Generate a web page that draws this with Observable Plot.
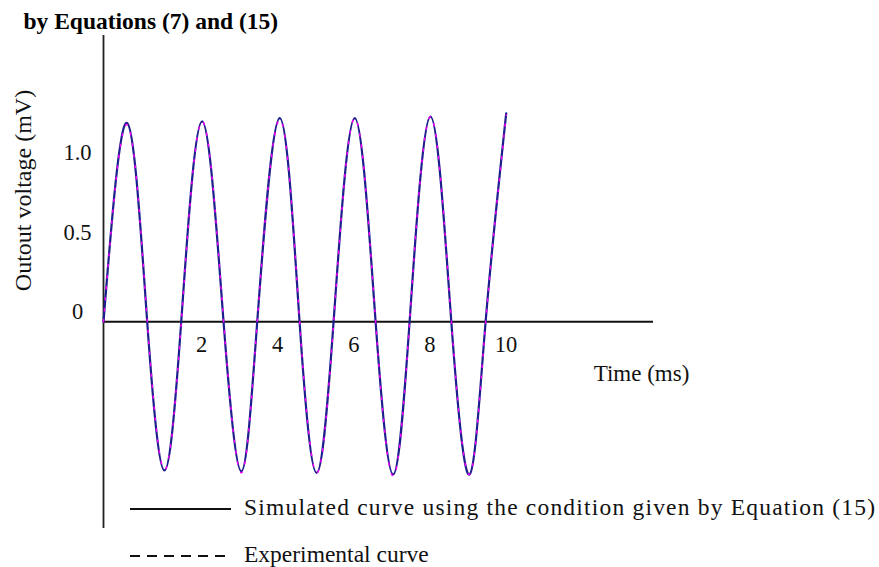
<!DOCTYPE html>
<html>
<head>
<meta charset="utf-8">
<script src="https://cdn.jsdelivr.net/npm/d3@7"></script>
<script src="https://cdn.jsdelivr.net/npm/@observablehq/plot@0.6"></script>
<style>
  html, body { margin: 0; padding: 0; background: #fff; }
  #chart svg { display: block; }
</style>
</head>
<body>
<div id="chart"></div>
<script>
// Time axis (ms): start, peaks, zero crossings and troughs of the output signal
const timeMs = [0, 0.62, 1.148, 1.60, 2.042, 2.59, 3.154, 3.62, 4.039, 4.63, 5.151, 5.60,
  6.045, 6.60, 7.149, 7.61, 8.042, 8.59, 9.138, 9.62, 10.039, 10.58];

// Simulated output voltage (mV), Equation (15) condition
const simulatedMv = [0, 1.25, 0, -0.935, 0, 1.26, 0, -0.94, 0, 1.28, 0, -0.95,
  0, 1.28, 0, -0.96, 0, 1.29, 0, -0.96, 0, 1.31];

// Measured output voltage (mV)
const experimentalMv = [0, 1.24, 0.01, -0.93, -0.01, 1.26, 0.01, -0.95, 0, 1.27, 0.01, -0.95,
  -0.01, 1.28, 0, -0.97, 0, 1.29, 0.01, -0.96, -0.01, 1.30];

const xTicks = [2, 4, 6, 8, 10];
const yTicks = [0, 0.5, 1.0];
const yTickLabels = ["0", "0.5", "1.0"];

const titleText = "by Equations (7) and (15)";
const xLabel = "Time (ms)";
const yLabel = "Outout voltage (mV)";
const legendLabels = ["Simulated curve using the condition given by Equation (15)", "Experimental curve"];

const simRows = timeMs.map((t, i) => ({t, v: simulatedMv[i]}));
const expRows = timeMs.map((t, i) => ({t, v: experimentalMv[i]}));

const FONT = "'Liberation Serif', 'Times New Roman', serif";

const svg = Plot.plot({
  width: 879,
  height: 567,
  marginLeft: 103,
  marginRight: 226,
  marginTop: 35,
  marginBottom: 39,
  x: {domain: [0, 14.45], axis: null},
  y: {domain: [-1.3, 1.8], axis: null},
  style: {fontFamily: FONT, background: "#fff", color: "#111", overflow: "visible"},
  marks: [
    // axes through the origin
    Plot.ruleX([0], {stroke: "#222", strokeWidth: 1.8}),
    Plot.ruleY([0], {stroke: "#111", strokeWidth: 1.8}),
    // tick labels
    Plot.text(xTicks, {x: d => d, y: 0, text: d => String(d), dx: 22, dy: 23,
      fontSize: 22.5, fill: "#111"}),
    Plot.text(yTicks, {x: 0, y: d => d, text: (d, i) => yTickLabels[i], dx: -26, dy: -9.5,
      textAnchor: "middle", fontSize: 22.5, fill: "#111"}),
    // curves
    Plot.line(simRows, {x: "t", y: "v", curve: "natural", stroke: "#1e1e8c", strokeWidth: 2.2}),
    Plot.line(expRows, {x: "t", y: "v", curve: "natural", stroke: "#ff00ff", strokeWidth: 1.5,
      strokeDasharray: "2,9"}),
    // titles
    Plot.text([titleText], {frameAnchor: "top-left", dx: -80, dy: -7, lineAnchor: "bottom",
      textAnchor: "start", fontWeight: "bold", fontSize: 23.5, fill: "#000"}),
    Plot.text([yLabel], {frameAnchor: "top-left", dx: -80, dy: 155, rotate: -90,
      textAnchor: "middle", lineAnchor: "middle", fontSize: 24, fill: "#111"}),
    Plot.text([xLabel], {frameAnchor: "top-right", dx: -12, dy: 345, lineAnchor: "bottom",
      textAnchor: "middle", fontSize: 23, fill: "#111"})
  ]
});

// legend below the plot
const g = d3.select(svg).append("g")
  .attr("font-family", FONT).attr("font-size", 23.5).attr("fill", "#111")
  .attr("text-anchor", "start");
const legendRows = [
  {label: legendLabels[0], dash: null, y: 509, length: 631},
  {label: legendLabels[1], dash: "10,7", y: 556, length: null}
];
legendRows.forEach(r => {
  g.append("line")
    .attr("x1", 130).attr("x2", 231).attr("y1", r.y).attr("y2", r.y)
    .attr("stroke", "#111").attr("stroke-width", 1.8)
    .attr("stroke-dasharray", r.dash);
  g.append("text")
    .attr("x", 244).attr("y", r.y + 6)
    .attr("text-anchor", "start")
    .attr("textLength", r.length)
    .attr("lengthAdjust", "spacing")
    .text(r.label);
});

document.getElementById("chart").append(svg);
</script>
</body>
</html>
